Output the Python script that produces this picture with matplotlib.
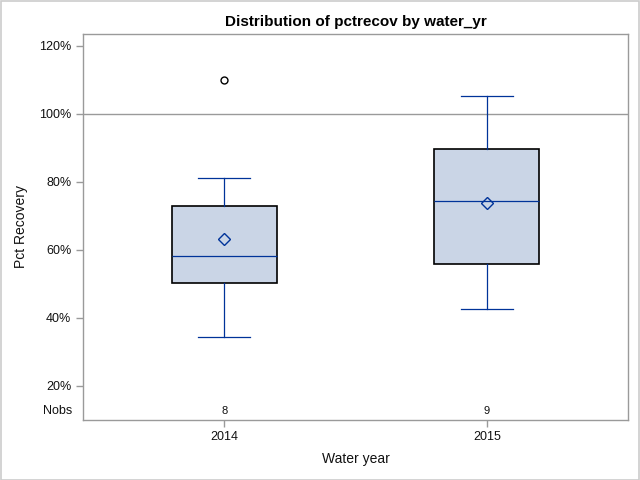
import matplotlib
matplotlib.use("Agg")
import matplotlib.pyplot as plt
from matplotlib.patches import Rectangle
from matplotlib.ticker import FuncFormatter

plt.rcParams['font.family'] = ['Liberation Sans', 'DejaVu Sans']

# Data
categories = ["2014", "2015"]
whisker_low = [34.4, 42.4]
q1 = [50.3, 55.9]
median = [58.2, 74.2]
q3 = [72.8, 89.6]
whisker_high = [81.1, 105.3]
means = [63.1, 73.6]
outliers = [[110.0], []]
nobs = [8, 9]
yticks = [20, 40, 60, 80, 100, 120]

blue = "#003399"
fill = "#CAD5E6"
gray = "#9a9a9a"
text_c = "#111111"

fig = plt.figure(figsize=(6.4, 4.8), dpi=100)
ax = fig.add_axes([83/640, 1-419.5/480, (628-83)/640, (419.5-34)/480])

stats = []
for i, c in enumerate(categories):
    stats.append(dict(label=c, whislo=whisker_low[i], q1=q1[i], med=median[i],
                      q3=q3[i], whishi=whisker_high[i], mean=means[i],
                      fliers=outliers[i]))

positions = list(range(len(categories)))
ax.axhline(100, color=gray, lw=1.0, zorder=1)
ax.bxp(stats, positions=positions, widths=0.4, showmeans=True, patch_artist=True,
       boxprops=dict(facecolor=fill, edgecolor="black", linewidth=1.2),
       medianprops=dict(color=blue, linewidth=0.9),
       whiskerprops=dict(color=blue, linewidth=0.9),
       capprops=dict(color=blue, linewidth=0.9),
       capwidths=0.2,
       meanprops=dict(marker="D", markerfacecolor="none", markeredgecolor=blue,
                      markersize=6, markeredgewidth=1.0),
       flierprops=dict(marker="o", markerfacecolor="none", markeredgecolor="black",
                       markersize=5, markeredgewidth=1.0),
       zorder=3)

ax.set_xlim(-0.538, 1.538)
ax.set_ylim(10.0, 123.5)
ax.set_yticks(yticks)
ax.yaxis.set_major_formatter(FuncFormatter(lambda v, p: f"{v:.0f}%"))
ax.set_xticks(positions)
ax.set_xticklabels(categories)

for sp in ax.spines.values():
    sp.set_color(gray)
    sp.set_linewidth(1.0)
ax.tick_params(axis="both", colors=gray, labelcolor=text_c, labelsize=9, length=5, width=1)

for i, n in enumerate(nobs):
    ax.text(positions[i], 12.6, str(n), ha="center", va="center", fontsize=8, color=text_c)
ax.text(-0.02, 12.6, "Nobs", transform=ax.get_yaxis_transform(), ha="right", va="center",
        fontsize=9, color=text_c)

ax.set_ylabel("Pct Recovery", fontsize=10, color=text_c, labelpad=8)
ax.set_xlabel("Water year", fontsize=10, color=text_c, labelpad=6)
ax.set_title("Distribution of pctrecov by water_yr", fontsize=11, fontweight="bold", pad=6)

fig.patches.append(Rectangle((0.5/640, 0.5/480), 1-1.5/640, 1-1.5/480, transform=fig.transFigure,
                             fill=False, edgecolor="#cccccc", linewidth=1.2))

fig.savefig("out.png", dpi=100)
